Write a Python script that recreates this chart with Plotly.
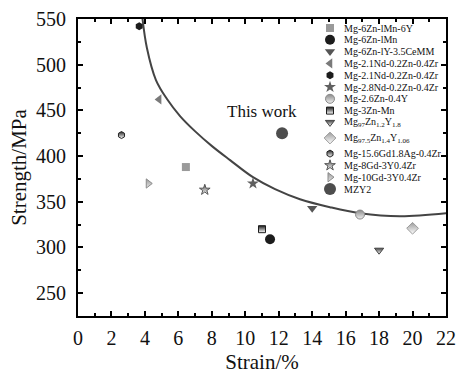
import plotly.graph_objects as go

# ---------------- data ----------------
alloy_names = [
    "Mg-6Zn-lMn-6Y",
    "Mg-6Zn-lMn",
    "Mg-6Zn-lY-3.5CeMM",
    "Mg-2.1Nd-0.2Zn-0.4Zr",
    "Mg-2.1Nd-0.2Zn-0.4Zr",
    "Mg-2.8Nd-0.2Zn-0.4Zr",
    "Mg-2.6Zn-0.4Y",
    "Mg-3Zn-Mn",
    "Mg<sub>97</sub>Zn<sub>1.2</sub>Y<sub>1.8</sub>",
    "Mg<sub>97.5</sub>Zn<sub>1.4</sub>Y<sub>1.06</sub>",
    "Mg-15.6Gd1.8Ag-0.4Zr",
    "Mg-8Gd-3Y0.4Zr",
    "Mg-10Gd-3Y0.4Zr",
    "MZY2",
]
strain = [6.45, 11.48, 14.0, 4.85, 3.66, 10.46, 16.86, 11.0, 18.0, 20.0, 2.6, 7.58, 4.2, 12.2]
strength = [388, 309, 343, 462, 542, 370, 336, 320, 297, 321, 423, 363, 370, 425]

curve_strain = [3.83, 4.12, 4.66, 5.32, 6.10, 6.99, 8.01, 9.09, 10.46, 11.78, 13.27, 15.06, 16.86, 19.25, 22.06]
curve_strength = [554.4, 518.2, 483.2, 462.4, 443.8, 427.3, 410.9, 395.6, 376.9, 363.8, 352.8, 344.1, 337.5, 334.2, 337.5]

x_ticks = list(range(0, 23, 2))
y_ticks = [250, 300, 350, 400, 450, 500, 550]

# ---------------- styles ----------------
def mk(symbol, size, color, grad=None, line_color=None, line_w=0):
    d = dict(symbol=symbol, size=size, color=color,
             line=dict(width=line_w, color=line_color or color))
    if grad:
        d["gradient"] = dict(type="vertical", color=grad)
    return d

styles = [
    mk("square", 8, "#9a9a9a"),
    mk("circle", 10, "#1c1c1c"),
    mk("triangle-down", 9, "#555555"),
    mk("triangle-left", 9, "#7a7a7a"),
    mk("hexagon", 8, "#1c1c1c"),
    mk("star", 9, "#606060"),
    mk("circle", 9, "#8a8a8a", grad="#f0f0f0", line_color="#8a8a8a", line_w=1),
    mk("square", 7, "#1c1c1c", grad="#ffffff", line_color="#1c1c1c", line_w=1),
    mk("triangle-down", 8, "#444444", grad="#ffffff", line_color="#444444", line_w=1),
    mk("diamond", 9, "#9a9a9a", grad="#ffffff", line_color="#9a9a9a", line_w=1),
    mk("hexagon", 7, "#222222", grad="#ffffff", line_color="#222222", line_w=1),
    mk("star", 8, "#555555", grad="#ffffff", line_color="#555555", line_w=1),
    mk("triangle-right", 8, "#9a9a9a", grad="#e8e8e8", line_color="#8a8a8a", line_w=1),
    mk("circle", 12, "#4d4d4d"),
]

FONT = "Liberation Serif"
W, H = 460, 382
ML, MR, MT, MB = 78, 14, 19, 66
PW, PH = W - ML - MR, H - MT - MB

fig = go.Figure()

fig.add_trace(go.Scatter(x=curve_strain, y=curve_strength, mode="lines",
                         line=dict(color="#444444", width=2, shape="spline"),
                         showlegend=False, hoverinfo="skip"))

for name, xv, yv, st in zip(alloy_names, strain, strength, styles):
    fig.add_trace(go.Scatter(x=[xv], y=[yv], mode="markers", marker=st,
                             name=name, showlegend=False))

# ---------------- manual legend (pixel overlay axes) ----------------
sub_rows = [i for i, n in enumerate(alloy_names) if "<sub>" in n]
leg_marker_x = 252
leg_text_x = 264
annotations = []
for i, (name, st) in enumerate(zip(alloy_names, styles)):
    extra = 3.8 * sum(1 for s in sub_rows if s < i)
    yy = 9 + 11.8 * i + extra
    fig.add_trace(go.Scatter(x=[leg_marker_x], y=[yy], mode="markers", marker=st,
                             xaxis="x2", yaxis="y2", showlegend=False, hoverinfo="skip"))
    annotations.append(dict(x=leg_text_x, y=yy, xref="x2", yref="y2", text=name,
                            showarrow=False, xanchor="left", yanchor="middle",
                            font=dict(family=FONT, size=10, color="#111111")))

annotations.append(dict(x=11.0, y=449, xref="x", yref="y", text="This work",
                        showarrow=False, xanchor="center", yanchor="middle",
                        font=dict(family=FONT, size=17, color="#111111")))

axis_common = dict(showline=True, linecolor="black", linewidth=2, mirror="allticks",
                   ticks="inside", ticklen=5, tickwidth=1.5, tickcolor="black",
                   showgrid=False, zeroline=False, automargin=False,
                   tickfont=dict(family=FONT, size=20, color="#111111"))

fig.update_layout(
    width=W, height=H,
    margin=dict(l=ML, r=MR, t=MT, b=MB, autoexpand=False),
    paper_bgcolor="white", plot_bgcolor="white",
    font=dict(family=FONT),
    xaxis=dict(range=[0, 22], tickvals=x_ticks,
               title=dict(text="Strain/%", font=dict(family=FONT, size=21, color="#111111"), standoff=6),
               minor=dict(dtick=1, ticks="inside", ticklen=3, tickcolor="black", tickwidth=1.5),
               ticklabelstandoff=3,
               **axis_common),
    yaxis=dict(range=[225, 550], tickvals=y_ticks,
               title=dict(text="Strength/MPa", font=dict(family=FONT, size=21, color="#111111"), standoff=4),
               minor=dict(dtick=25, ticks="inside", ticklen=3, tickcolor="black", tickwidth=1.5),
               ticklabelstandoff=6,
               **axis_common),
    xaxis2=dict(range=[0, PW], overlaying="x", anchor="y2", visible=False, fixedrange=True),
    yaxis2=dict(range=[PH, 0], overlaying="y", anchor="x2", visible=False, fixedrange=True),
    annotations=annotations,
    showlegend=False,
)

fig.write_html("out.html", config={"displayModeBar": False},
               post_script="document.body.style.margin='0';")
